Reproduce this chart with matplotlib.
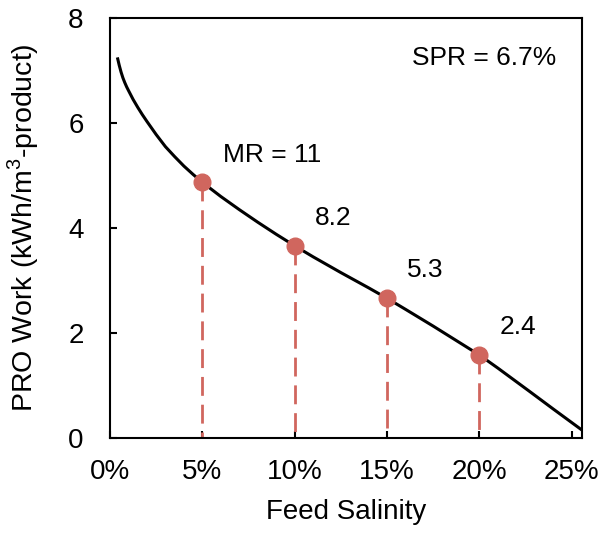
import matplotlib
matplotlib.use("Agg")
import matplotlib.pyplot as plt
from matplotlib.ticker import FuncFormatter

plt.rcParams['font.family'] = ['Liberation Sans', 'DejaVu Sans']
plt.rcParams['mathtext.fontset'] = 'custom'
plt.rcParams['mathtext.rm'] = 'Liberation Sans'

# Curve: PRO work vs feed salinity
salinity = [0.004, 0.005, 0.006, 0.007, 0.008, 0.009, 0.010, 0.0125, 0.015, 0.0175,
            0.020, 0.025, 0.030, 0.035, 0.040, 0.045, 0.050, 0.06, 0.07, 0.08,
            0.09, 0.10, 0.11, 0.125, 0.14, 0.15, 0.16, 0.175, 0.19, 0.20,
            0.21, 0.227, 0.24, 0.2555]
work = [7.25, 7.10, 6.97, 6.86, 6.77, 6.69, 6.62, 6.45, 6.30, 6.16,
        6.03, 5.78, 5.55, 5.36, 5.18, 5.02, 4.87, 4.60, 4.35, 4.11,
        3.88, 3.66, 3.45, 3.15, 2.86, 2.66, 2.45, 2.13, 1.80, 1.58,
        1.33, 0.89, 0.55, 0.15]

# Highlighted points
pt_x = [0.05, 0.10, 0.15, 0.20]
pt_y = [4.87, 3.66, 2.66, 1.58]
mr_labels = ["MR = 11", "8.2", "5.3", "2.4"]
lbl_x = [0.0612, 0.1108, 0.1605, 0.211]
lbl_y = [5.40, 4.19, 3.20, 2.11]

x_ticks = [0, 0.05, 0.10, 0.15, 0.20, 0.25]
y_ticks = [0, 2, 4, 6, 8]

fig = plt.figure(figsize=(6.02, 5.38), dpi=100)
ax = fig.add_axes([0.1827, 0.1859, 0.7841, 0.7806])

red = '#D0665E'
ax.plot(salinity, work, color='black', lw=2.2, zorder=3, solid_capstyle='butt')
for x, y in zip(pt_x, pt_y):
    ax.plot([x, x], [y, 0], color=red, lw=2.0, ls=(0, (6.8, 3.2)), zorder=2)
ax.plot(pt_x, pt_y, 'o', color=red, ms=12, zorder=4)
for x, y, t in zip(lbl_x, lbl_y, mr_labels):
    ax.text(x, y, t, ha='left', va='center', fontsize=19)
ax.text(0.639, 0.905, "SPR = 6.7%", transform=ax.transAxes, ha='left', va='center', fontsize=19)

ax.set_xlim(0, 0.2555)
ax.set_ylim(0, 8)
ax.set_xticks(x_ticks)
ax.set_yticks(y_ticks)
ax.xaxis.set_major_formatter(FuncFormatter(lambda v, p: f"{v*100:.0f}%"))
ax.tick_params(direction='in', length=5, width=1.5, labelsize=20)
ax.tick_params(axis='x', pad=15)
ax.tick_params(axis='y', pad=19)
for s in ax.spines.values():
    s.set_linewidth(1.5)
ax.set_xlabel("Feed Salinity", fontsize=20, labelpad=10)
ax.set_ylabel("PRO Work (kWh/m$^3$-product)", fontsize=20.5)
ax.yaxis.set_label_coords(-0.146, 0.5)

fig.savefig("out.png", dpi=100)
